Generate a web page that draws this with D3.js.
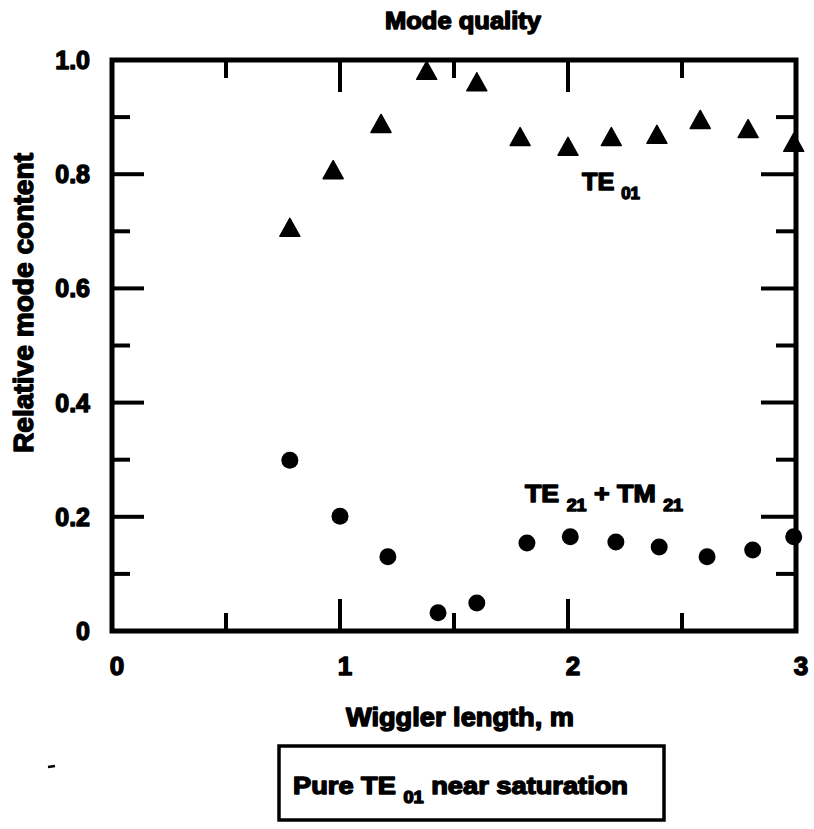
<!DOCTYPE html>
<html>
<head>
<meta charset="utf-8">
<script src="https://cdn.jsdelivr.net/npm/d3@7"></script>
<style>
  html, body { margin: 0; padding: 0; background: #fff; }
  svg text { font-family: "Liberation Sans", Arial, Helvetica, sans-serif; font-weight: bold; fill: #000; }
  .heavy { stroke: #000; stroke-width: 1.4px; stroke-linejoin: round; }
</style>
</head>
<body>
<svg id="chart" width="814" height="829"></svg>
<script>
// Wiggler length (m) for each measurement
const te01X   = [0.78, 0.97, 1.18, 1.38, 1.60, 1.79, 2.00, 2.19, 2.39, 2.58, 2.79, 2.99];
// Relative TE01 mode content
const te01Y   = [0.706, 0.807, 0.888, 0.981, 0.961, 0.865, 0.848, 0.865, 0.869, 0.895, 0.879, 0.855];

const te21X   = [0.78, 1.00, 1.21, 1.43, 1.60, 1.82, 2.01, 2.21, 2.40, 2.61, 2.81, 2.99];
// Relative TE21 + TM21 mode content
const te21Y   = [0.299, 0.201, 0.130, 0.032, 0.049, 0.154, 0.165, 0.156, 0.147, 0.130, 0.142, 0.165];

const xTickValues = [0, 1, 2, 3];
const xTickLabels = ["0", "1", "2", "3"];
const yTickValues = [0, 0.2, 0.4, 0.6, 0.8, 1.0];
const yTickLabels = ["0", "0.2", "0.4", "0.6", "0.8", "1.0"];
const xMinor = [0.5, 1.5, 2.5];
const yMinor = [0.1, 0.3, 0.5, 0.7, 0.9];

const svg = d3.select("#chart");

const x = d3.scaleLinear().domain([0, 3]).range([112, 796]);
const y = d3.scaleLinear().domain([0, 1]).range([631, 60]);

const MAJ = 32, MIN = 18, RMAJ = 35, RMIN = 20;

// Tick marks on all four sides, pointing inward
const ticks = svg.append("g").attr("stroke", "#000").attr("stroke-width", 4).attr("stroke-linecap", "butt");
const xAll = xTickValues.slice(1, -1).map(v => ({v, len: MAJ})).concat(xMinor.map(v => ({v, len: MIN})));
const yAll = yTickValues.slice(1, -1).map(v => ({v, len: MAJ, r: RMAJ})).concat(yMinor.map(v => ({v, len: MIN, r: RMIN})));

ticks.selectAll("line.xb").data(xAll).join("line").attr("class", "xb")
  .attr("x1", d => x(d.v)).attr("x2", d => x(d.v))
  .attr("y1", y(0)).attr("y2", d => y(0) - d.len);
ticks.selectAll("line.xt").data(xAll).join("line").attr("class", "xt")
  .attr("x1", d => x(d.v)).attr("x2", d => x(d.v))
  .attr("y1", y(1)).attr("y2", d => y(1) + d.len);
ticks.selectAll("line.yl").data(yAll).join("line").attr("class", "yl")
  .attr("y1", d => y(d.v)).attr("y2", d => y(d.v))
  .attr("x1", x(0)).attr("x2", d => x(0) + d.len);
ticks.selectAll("line.yr").data(yAll).join("line").attr("class", "yr")
  .attr("y1", d => y(d.v)).attr("y2", d => y(d.v))
  .attr("x1", x(3)).attr("x2", d => x(3) - d.r);

// Plot frame
svg.append("rect")
  .attr("x", x(0)).attr("y", y(1))
  .attr("width", x(3) - x(0)).attr("height", y(0) - y(1))
  .attr("fill", "none").attr("stroke", "#000").attr("stroke-width", 5);

// Tick labels
svg.append("g").selectAll("text").data(xTickValues).join("text")
  .attr("class", "heavy")
  .attr("x", d => x(d) + 5).attr("y", 675)
  .attr("text-anchor", "middle").attr("font-size", 26)
  .text((d, i) => xTickLabels[i]);

svg.append("g").selectAll("text").data(yTickValues).join("text")
  .attr("class", "heavy")
  .attr("x", 90).attr("y", d => y(d)).attr("dy", "0.36em")
  .attr("text-anchor", "end").attr("font-size", 25)
  .text((d, i) => yTickLabels[i]);

// TE01 markers: filled triangles
const tri = "M0,-9.5 L10,8.5 L-10,8.5 Z";
svg.append("g").selectAll("path").data(te01X.map((v, i) => [v, te01Y[i]])).join("path")
  .attr("d", tri)
  .attr("transform", d => `translate(${x(d[0])},${y(d[1])})`)
  .attr("fill", "#000").attr("stroke", "#000").attr("stroke-width", 1.5).attr("stroke-linejoin", "round");

// TE21 + TM21 markers: filled circles
svg.append("g").selectAll("circle").data(te21X.map((v, i) => [v, te21Y[i]])).join("circle")
  .attr("cx", d => x(d[0])).attr("cy", d => y(d[1])).attr("r", 8.5)
  .attr("fill", "#000");

// Title and axis titles
svg.append("text").attr("class", "heavy")
  .attr("x", 463).attr("y", 29).attr("text-anchor", "middle").attr("font-size", 23)
  .attr("textLength", 156).attr("lengthAdjust", "spacingAndGlyphs")
  .text("Mode quality");

svg.append("text").attr("class", "heavy")
  .attr("transform", "translate(33,303) rotate(-90)")
  .attr("text-anchor", "middle").attr("font-size", 27)
  .attr("textLength", 300).attr("lengthAdjust", "spacingAndGlyphs")
  .text("Relative mode content");

svg.append("text").attr("class", "heavy")
  .attr("x", 460).attr("y", 726).attr("text-anchor", "middle").attr("font-size", 25)
  .attr("textLength", 228).attr("lengthAdjust", "spacingAndGlyphs")
  .text("Wiggler length, m");

// Series annotations with subscripts
function subLabel(g, x0, y0, parts, len) {
  const t = g.append("text").attr("class", "heavy").attr("x", x0).attr("y", y0).attr("font-size", 24);
  parts.forEach(p => {
    const s = t.append("tspan").text(p.t);
    if (p.sub) s.attr("font-size", 16).attr("dy", 9);
    if (p.up) s.attr("dy", -9);
  });
  if (len) t.attr("textLength", len).attr("lengthAdjust", "spacingAndGlyphs");
  return t;
}

subLabel(svg, 582, 190, [{t: "TE "}, {t: "01", sub: true}], 58);
subLabel(svg, 525, 502, [{t: "TE "}, {t: "21", sub: true}, {t: " + ", up: true}, {t: "TM "}, {t: "21", sub: true}], 158);

// Caption box
svg.append("rect")
  .attr("x", 279).attr("y", 746).attr("width", 385).attr("height", 74)
  .attr("fill", "none").attr("stroke", "#000").attr("stroke-width", 3.5);
subLabel(svg, 293, 794, [{t: "Pure TE "}, {t: "01", sub: true}, {t: " near saturation", up: true}], 335);

// small stray dash at left margin
svg.append("line").attr("x1", 48).attr("x2", 55).attr("y1", 767).attr("y2", 766)
  .attr("stroke", "#000").attr("stroke-width", 2.5);
</script>
</body>
</html>
